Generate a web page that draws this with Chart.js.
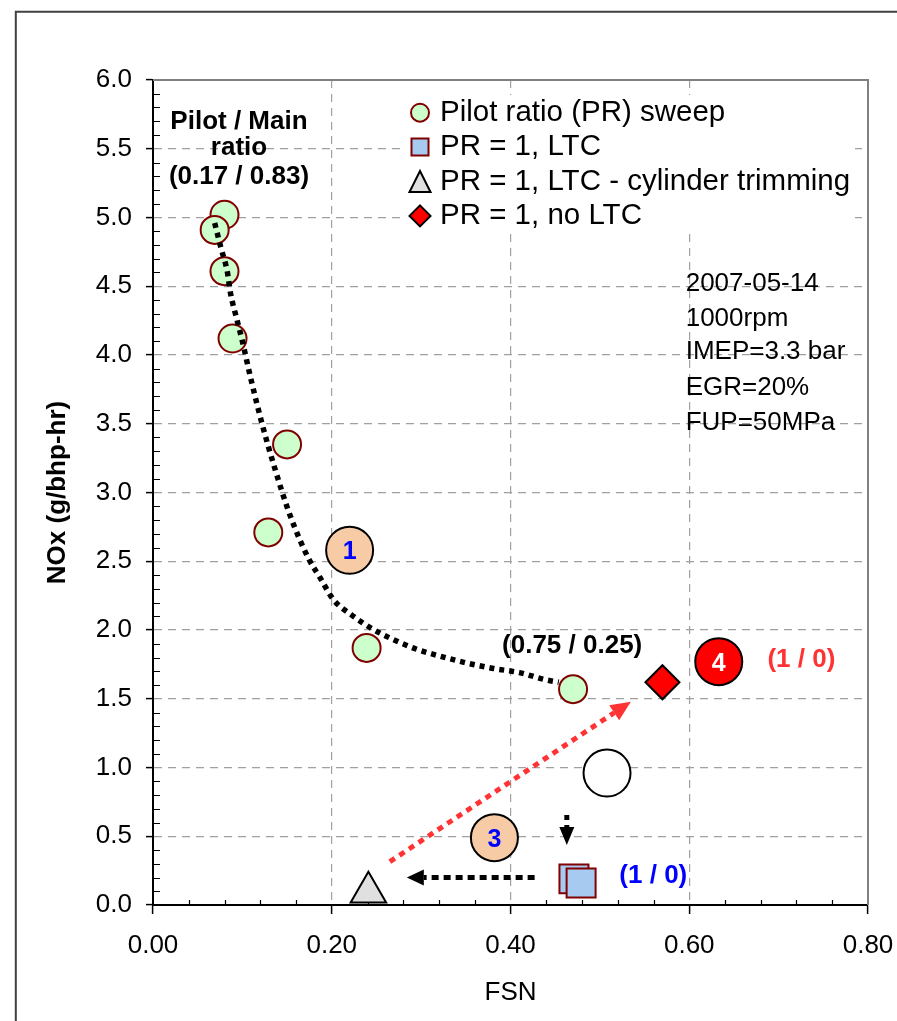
<!DOCTYPE html>
<html>
<head>
<meta charset="utf-8">
<script src="https://cdn.jsdelivr.net/npm/chart.js@4.4.0/dist/chart.umd.min.js"></script>
<style>
html,body{margin:0;padding:0;background:#fff;overflow:hidden}
#wrap{position:relative;width:897px;height:1021px}
canvas{position:absolute;left:0;top:0}
</style>
</head>
<body>
<div id="wrap"><canvas id="c" width="897" height="1021"></canvas></div>
<script>
// ---------------- DATA ----------------
const xTickValues = [0, 0.2, 0.4, 0.6, 0.8];
const xTickLabels = ['0.00', '0.20', '0.40', '0.60', '0.80'];
const yTickValues = [0, 0.5, 1, 1.5, 2, 2.5, 3, 3.5, 4, 4.5, 5, 5.5, 6];
const yTickLabels = ['0.0','0.5','1.0','1.5','2.0','2.5','3.0','3.5','4.0','4.5','5.0','5.5','6.0'];

const seriesNames = ['Pilot ratio (PR) sweep', 'PR = 1, LTC', 'PR = 1, LTC - cylinder trimming', 'PR = 1, no LTC'];

const pilotFSN = [0.080, 0.069, 0.080, 0.089, 0.150, 0.129, 0.239, 0.470];
const pilotNOx = [5.02, 4.91, 4.61, 4.12, 3.35, 2.71, 1.87, 1.57];

const ltcFSN = [0.471, 0.479];
const ltcNOx = [0.19, 0.16];

const trimFSN = [0.241];
const trimNOx = [0.093];

const noLtcFSN = [0.570];
const noLtcNOx = [1.62];

// dotted trend curve through the PR sweep
const trendFSN = [0.069, 0.076, 0.083, 0.087, 0.093, 0.100, 0.109, 0.122, 0.137, 0.153, 0.174, 0.187, 0.202, 0.222, 0.245, 0.269, 0.295, 0.321, 0.351, 0.381, 0.410, 0.438, 0.454];
const trendNOx = [4.96, 4.78, 4.61, 4.44, 4.28, 4.10, 3.84, 3.50, 3.16, 2.84, 2.52, 2.38, 2.22, 2.11, 2.01, 1.93, 1.86, 1.81, 1.76, 1.72, 1.69, 1.64, 1.62];

// numbered marker circles
const markerFSN = [0.220, 0.382, 0.633, 0.508];
const markerNOx = [2.58, 0.49, 1.77, 0.96];
const markerLabels = ['1', '3', '4', ''];

// arrows (shaft start -> shaft end; head drawn beyond the end)
const redArrowFSN = [0.265, 0.516];
const redArrowNOx = [0.315, 1.398];
const leftArrowFSN = [0.427, 0.303];
const leftArrowNOx = [0.20, 0.20];
const downArrowFSN = [0.463, 0.463];
const downArrowNOx = [0.655, 0.567];

// text annotations
const noteTexts = ['Pilot / Main', 'ratio', '(0.17 / 0.83)', '(0.75 / 0.25)', '(1 / 0)', '(1 / 0)'];
const noteFSN = [0.0962, 0.0962, 0.0962, 0.469, 0.7255, 0.5598];
const noteNOx = [5.644, 5.455, 5.244, 1.830, 1.733, 0.158];

const infoLines = ['2007-05-14', '1000rpm', 'IMEP=3.3 bar', 'EGR=20%', 'FUP=50MPa'];
const infoFSN = 0.596;
const infoNOx = [4.465, 4.211, 3.971, 3.709, 3.455];

// ---------------- STYLE ----------------
const FONT = '"Liberation Sans", Arial, Helvetica, sans-serif';
Chart.defaults.font.family = FONT;
Chart.defaults.color = '#000';

const RED = '#FF3333';
const BLUE = '#0000FF';
const PEACH = '#F7CBA6';
const noteColors = ['#000', '#000', '#000', '#000', RED, BLUE];
const markerFill = [PEACH, PEACH, '#FF0000', '#FFFFFF'];
const markerTextColor = [BLUE, BLUE, '#FFFFFF', '#000'];

const pts = (xs, ys) => xs.map((x, i) => ({x: x, y: ys[i]}));

function drawShape(ctx, style, x, y, r) {
  ctx.beginPath();
  if (style === 'circle') ctx.arc(x, y, r, 0, Math.PI * 2);
  else if (style === 'rect') ctx.rect(x - r, y - r, 2 * r, 2 * r);
  else if (style === 'triangle') { ctx.moveTo(x, y - r); ctx.lineTo(x + r, y + r); ctx.lineTo(x - r, y + r); ctx.closePath(); }
  else if (style === 'rectRot') { ctx.moveTo(x, y - r); ctx.lineTo(x + r, y); ctx.lineTo(x, y + r); ctx.lineTo(x - r, y); ctx.closePath(); }
  ctx.fill(); ctx.stroke();
}

const datasets = [
  { label: seriesNames[0], data: pts(pilotFSN, pilotNOx), pointStyle: 'circle', pointRadius: 14,
    backgroundColor: '#CCFFCC', borderColor: '#800000', borderWidth: 2, order: 2,
    legendMarker: {style: 'circle', size: 9} },
  { label: seriesNames[1], data: pts(ltcFSN, ltcNOx), pointStyle: 'rect', pointRadius: 20.5,
    backgroundColor: '#A6CAF0', borderColor: '#800000', borderWidth: 2, order: 3,
    legendMarker: {style: 'rect', size: 8.5} },
  { label: seriesNames[2], data: pts(trimFSN, trimNOx), pointStyle: 'triangle', pointRadius: 20.5,
    backgroundColor: '#E0E0E0', borderColor: '#000', borderWidth: 2, order: 4,
    legendMarker: {style: 'triangle', size: 10.5} },
  { label: seriesNames[3], data: pts(noLtcFSN, noLtcNOx), pointStyle: 'rectRot', pointRadius: 17,
    backgroundColor: '#FF0000', borderColor: '#000', borderWidth: 2, order: 5,
    legendMarker: {style: 'rectRot', size: 10.5} },
  { label: 'trend', type: 'line', data: pts(trendFSN, trendNOx), showLine: true, pointRadius: 0,
    borderColor: '#000', borderWidth: 5.5, borderDash: [5, 5], borderCapStyle: 'butt',
    cubicInterpolationMode: 'monotone', fill: false, order: 0 },
  { label: 'markers', data: pts(markerFSN, markerNOx), pointStyle: 'circle', pointRadius: 23.5,
    backgroundColor: markerFill, borderColor: '#000', borderWidth: 2, order: 6, numberLabels: true },
  { label: 'arrowRed', type: 'line', data: pts(redArrowFSN, redArrowNOx), showLine: true, pointRadius: 0,
    borderColor: RED, borderWidth: 5, borderDash: [6, 5.5], borderCapStyle: 'butt', order: 1,
    arrowHead: {len: 20, half: 9, color: RED} },
  { label: 'arrowLeft', type: 'line', data: pts(leftArrowFSN, leftArrowNOx), showLine: true, pointRadius: 0,
    borderColor: '#000', borderWidth: 5, borderDash: [7, 5], borderCapStyle: 'butt', order: 1,
    arrowHead: {len: 17, half: 8, color: '#000'} },
  { label: 'arrowDown', type: 'line', data: pts(downArrowFSN, downArrowNOx), showLine: true, pointRadius: 0,
    borderColor: '#000', borderWidth: 5, borderDash: [5, 5], borderCapStyle: 'butt', order: 1,
    arrowHead: {len: 18, half: 7.5, color: '#000'} }
];

// ---------------- PLUGINS ----------------
const framePlugin = {
  id: 'frame',
  beforeDraw(chart) {
    const ctx = chart.ctx;
    ctx.save();
    ctx.fillStyle = '#fff';
    ctx.fillRect(0, 0, chart.width, chart.height);
    ctx.strokeStyle = '#404040';
    ctx.lineWidth = 2;
    ctx.beginPath();
    ctx.moveTo(15.8, chart.height + 5);
    ctx.lineTo(15.8, 11.8);
    ctx.lineTo(chart.width + 5, 11.8);
    ctx.stroke();
    ctx.restore();
  },
  beforeDatasetsDraw(chart) {
    const ctx = chart.ctx, a = chart.chartArea;
    const xs = chart.scales.x, ys = chart.scales.y;
    ctx.save();
    // top & right plot border
    ctx.strokeStyle = '#808080';
    ctx.lineWidth = 2;
    ctx.beginPath();
    ctx.moveTo(a.left, a.top); ctx.lineTo(a.right, a.top); ctx.lineTo(a.right, a.bottom);
    ctx.stroke();
    // minor ticks (inside)
    ctx.strokeStyle = '#000';
    ctx.lineWidth = 1.2;
    ctx.beginPath();
    for (let k = 1; k < 60; k++) {
      if (k % 5 === 0) continue;
      const py = Math.round(ys.getPixelForValue(k * 0.1)) + 0.5;
      ctx.moveTo(a.left, py); ctx.lineTo(a.left + 7, py);
    }
    for (let k = 1; k < 20; k++) {
      if (k % 5 === 0) continue;
      const px = Math.round(xs.getPixelForValue(k * 0.04)) + 0.5;
      ctx.moveTo(px, a.bottom); ctx.lineTo(px, a.bottom - 5);
    }
    ctx.stroke();
    // legend (white box + markers + text)
    const box = {left: 404, top: 95, right: 855, bottom: 233};
    ctx.fillStyle = '#fff';
    ctx.fillRect(box.left, box.top, box.right - box.left, box.bottom - box.top);
    const items = chart.data.datasets.filter(d => d.legendMarker);
    ctx.font = '29.5px ' + FONT;
    ctx.textBaseline = 'middle';
    ctx.textAlign = 'left';
    items.forEach((d, i) => {
      const cy = 112.7 + i * 34.4;
      ctx.fillStyle = d.backgroundColor;
      ctx.strokeStyle = d.borderColor;
      ctx.lineWidth = d.borderWidth;
      drawShape(ctx, d.legendMarker.style, 420, cy, d.legendMarker.size);
      ctx.fillStyle = '#000';
      ctx.fillText(d.label, 440, cy);
    });
    ctx.restore();
  },
  afterDatasetsDraw(chart) {
    const ctx = chart.ctx;
    const xs = chart.scales.x, ys = chart.scales.y;
    ctx.save();
    // arrow heads
    chart.data.datasets.forEach((d, i) => {
      if (!d.arrowHead) return;
      const el = chart.getDatasetMeta(i).data;
      const p0 = el[el.length - 2], p1 = el[el.length - 1];
      const dx = p1.x - p0.x, dy = p1.y - p0.y, L = Math.hypot(dx, dy);
      const ux = dx / L, uy = dy / L;
      const h = d.arrowHead;
      const tx = p1.x + ux * h.len, ty = p1.y + uy * h.len;
      ctx.fillStyle = h.color;
      ctx.beginPath();
      ctx.moveTo(tx, ty);
      ctx.lineTo(p1.x - uy * h.half, p1.y + ux * h.half);
      ctx.lineTo(p1.x + uy * h.half, p1.y - ux * h.half);
      ctx.closePath();
      ctx.fill();
    });
    // numbers inside marker circles
    chart.data.datasets.forEach((d, i) => {
      if (!d.numberLabels) return;
      const el = chart.getDatasetMeta(i).data;
      ctx.font = 'bold 25px ' + FONT;
      ctx.textAlign = 'center';
      ctx.textBaseline = 'alphabetic';
      el.forEach((p, j) => {
        if (!markerLabels[j]) return;
        ctx.fillStyle = markerTextColor[j];
        ctx.fillText(markerLabels[j], p.x, p.y + 9);
      });
    });
    // notes
    ctx.font = 'bold 26px ' + FONT;
    ctx.textAlign = 'center';
    ctx.textBaseline = 'alphabetic';
    noteTexts.forEach((t, j) => {
      ctx.fillStyle = noteColors[j];
      ctx.fillText(t, xs.getPixelForValue(noteFSN[j]), ys.getPixelForValue(noteNOx[j]));
    });
    // info block
    ctx.font = '26px ' + FONT;
    ctx.textAlign = 'left';
    ctx.fillStyle = '#000';
    infoLines.forEach((t, j) => {
      ctx.fillText(t, xs.getPixelForValue(infoFSN), ys.getPixelForValue(infoNOx[j]));
    });
    ctx.restore();
  }
};

// ---------------- CHART ----------------
new Chart(document.getElementById('c'), {
  type: 'scatter',
  data: { datasets: datasets },
  options: {
    responsive: false,
    animation: false,
    devicePixelRatio: 1,
    events: [],
    layout: { padding: { left: 0, top: 80, right: 29, bottom: 0 } },
    plugins: { legend: { display: false }, tooltip: { enabled: false } },
    scales: {
      x: {
        type: 'linear', min: 0, max: 0.8,
        afterBuildTicks: (s) => { s.ticks = xTickValues.map(v => ({value: v})); },
        afterFit: (s) => { s.height = 116; s.paddingLeft = 0; s.paddingRight = 0; },
        ticks: { callback: (v, i) => xTickLabels[i], font: {size: 26}, padding: 16, maxRotation: 0, autoSkip: false, color: '#000' },
        grid: { color: '#A0A0A0', lineWidth: 1.2, tickColor: '#000', tickLength: 9, tickWidth: 1.5, tickBorderDash: [] },
        border: { color: '#000', width: 2, dash: [8, 6] },
        title: { display: true, text: 'FSN', font: {size: 26}, color: '#000', padding: {top: 0, bottom: 12.4} }
      },
      y: {
        type: 'linear', min: 0, max: 6,
        afterBuildTicks: (s) => { s.ticks = yTickValues.map(v => ({value: v})); },
        afterFit: (s) => { s.width = 153; s.paddingTop = 0; s.paddingBottom = 0; },
        ticks: { callback: (v, i) => yTickLabels[i], font: {size: 26}, padding: 14, autoSkip: false, color: '#000' },
        grid: { color: '#A0A0A0', lineWidth: 1.2, tickColor: '#000', tickLength: 7, tickWidth: 1.5, tickBorderDash: [] },
        border: { color: '#000', width: 2, dash: [8, 6] },
        title: { display: true, text: 'NOx (g/bhp-hr)', font: {size: 26, weight: 'bold'}, color: '#000', padding: {top: 42.4, bottom: 0} }
      }
    }
  },
  plugins: [framePlugin]
});
</script>
</body>
</html>
